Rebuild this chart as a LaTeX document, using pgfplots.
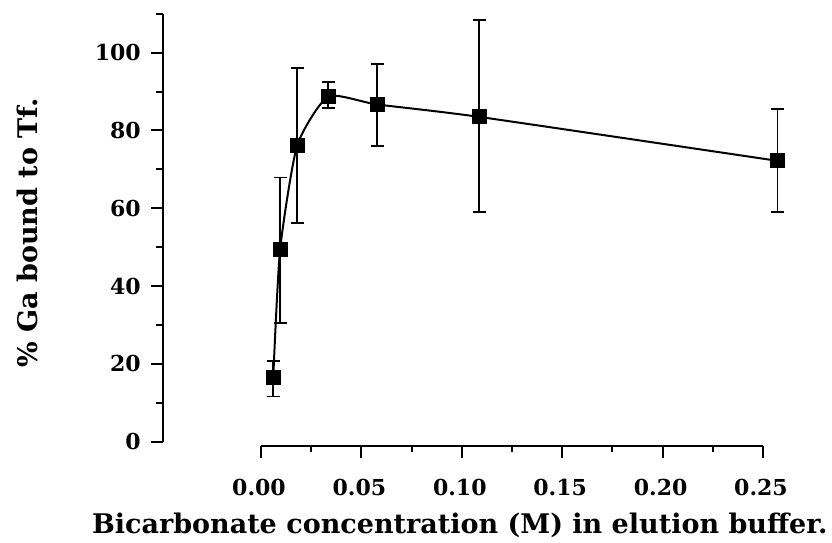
\documentclass[border=0pt]{standalone}
\usepackage{fontspec}
\setmainfont{DejaVu Serif}
\usepackage{pgfplots}
\pgfplotsset{compat=1.18}
\usepackage{pgfplotstable}

% Ga binding vs bicarbonate concentration: x, mean, upper err, lower err
\pgfplotstableread{
x       y     ep    em
0.0061  16.4  4.4   4.8
0.0095  49.3  18.6  18.7
0.0180  76.1  20.0  19.8
0.0335  88.7  3.8   3.0
0.0578  86.7  10.4  10.6
0.1087  83.5  24.9  24.4
0.2573  72.2  13.3  13.2
}\gadata

\begin{document}
\begin{tikzpicture}[x=1pt,y=1pt]
\path[use as bounding box] (0,0) rectangle (832,542);

% y axis with the data (x axis hidden, drawn separately below)
\begin{axis}[
  at={(163pt,100.3pt)}, anchor=south west,
  scale only axis, width=620pt, height=427.9pt,
  xmin=-0.0488, xmax=0.26, ymin=0, ymax=110,
  axis x line=none, axis y line*=left,
  axis line style={line width=2.2pt, -},
  ytick={0,20,...,100}, minor ytick={10,30,...,110},
  tick align=outside,
  major tick length=12pt, minor tick length=7pt,
  tick style={line width=2pt, black},
  /pgf/number format/assume math mode=true,
  yticklabel style={font=\fontsize{22}{26}\selectfont\bfseries, inner sep=0pt, xshift=-10pt},
  ylabel={\% Ga bound to Tf.},
  ylabel style={at={(axis description cs:-0.2032,0.4877)}, anchor=base,
    font=\fontsize{27}{32}\selectfont\bfseries},
  clip=false,
]
\addplot[black, line width=2pt, smooth, tension=0.35,
  mark=square*, mark size=6.5pt, mark options={solid, fill=black},
  error bars/.cd, y dir=both, y explicit,
  error bar style={line width=1.8pt, black},
  error mark options={rotate=90, mark size=6.5pt, line width=1.8pt, black}]
  table[x=x, y=y, y error plus=ep, y error minus=em] {\gadata};
\end{axis}

% detached x axis
\begin{axis}[
  at={(261pt,96pt)}, anchor=south west,
  scale only axis, width=502pt, height=1pt,
  xmin=0, xmax=0.25, ymin=0, ymax=1,
  axis y line=none, axis x line*=bottom,
  axis line style={line width=2.2pt, -},
  xtick={0,0.05,...,0.25}, minor xtick={0.025,0.075,...,0.225},
  tick align=outside,
  major tick length=12pt, minor tick length=6pt,
  tick style={line width=2pt, black},
  /pgf/number format/assume math mode=true,
  xticklabel={\pgfmathprintnumber[fixed, fixed zerofill, precision=2]{\tick}},
  xticklabel style={font=\fontsize{22}{26}\selectfont\bfseries, inner sep=0pt,
    anchor=base, yshift=-37pt, xshift=-2pt},
  xlabel={Bicarbonate concentration (M) in elution buffer.},
  xlabel style={at={(axis description cs:0.396,0)}, anchor=base, yshift=-87pt,
    font=\fontsize{27}{32}\selectfont\bfseries},
]
\end{axis}
\end{tikzpicture}
\end{document}
